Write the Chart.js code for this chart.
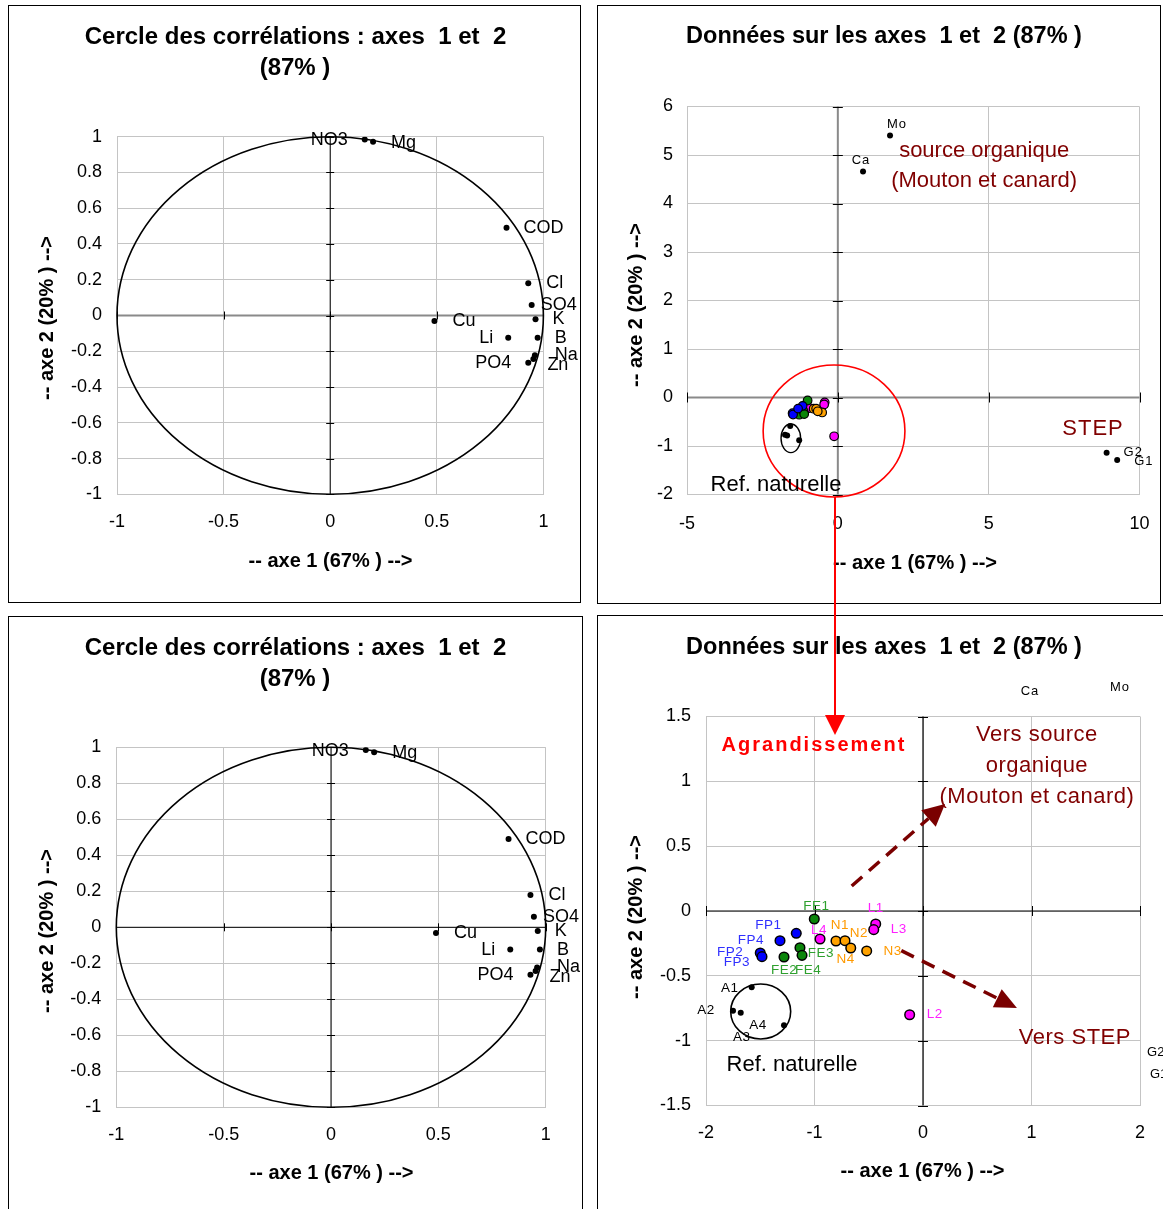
<!DOCTYPE html>
<html><head><meta charset="utf-8">
<script src="https://cdn.jsdelivr.net/npm/chart.js@4.4.1/dist/chart.umd.min.js"></script>
<style>
html,body{margin:0;padding:0;background:#fff;overflow:hidden;width:1163px;height:1209px;}
.panel{position:absolute;border:1px solid #000;box-sizing:border-box;background:#fff;}
canvas{position:absolute;}
#overlay{pointer-events:none;}
</style></head><body>
<div class="panel" style="left:8px;top:5px;width:573px;height:598px"></div>
<div class="panel" style="left:8px;top:616px;width:575px;height:610px"></div>
<div class="panel" style="left:597px;top:5px;width:564px;height:599px"></div>
<div class="panel" style="left:597px;top:615px;width:600px;height:610px"></div>
<canvas id="cTL" width="573" height="598" style="left:8px;top:5px"></canvas>
<canvas id="cBL" width="575" height="593" style="left:8px;top:616px"></canvas>
<canvas id="cTR" width="564" height="599" style="left:597px;top:5px"></canvas>
<canvas id="cBR" width="566" height="594" style="left:597px;top:615px"></canvas>
<canvas id="overlay" width="1163" height="1209" style="left:0;top:0"></canvas>
<script>
// ================= DATA =================
// Correlation circle (variables)
const CORR_VARS = ['NO3','Mg','COD','Cl','SO4','K','Cu','Li','B','Na','Zn','PO4'];
const CORR_AXE1 = [0.162,0.201,0.827,0.929,0.945,0.963,0.489,0.835,0.973,0.960,0.953,0.929];
const CORR_AXE2 = [0.985,0.972,0.491,0.180,0.059,-0.021,-0.031,-0.124,-0.124,-0.223,-0.243,-0.264];
const CORR_X_TICKS = [-1,-0.5,0,0.5,1];
const CORR_Y_TICKS = [-1,-0.8,-0.6,-0.4,-0.2,0,0.2,0.4,0.6,0.8,1];

// Samples (individuals) on axes 1 and 2
const FP_NAMES = ['FP1','FP2','FP3','FP4'];
const FP_AXE1  = [-1.168,-1.500,-1.484,-1.318];
const FP_AXE2  = [-0.172,-0.324,-0.352,-0.229];
const FE_NAMES = ['FE1','FE2','FE3','FE4'];
const FE_AXE1  = [-1.002,-1.281,-1.134,-1.115];
const FE_AXE2  = [-0.062,-0.355,-0.283,-0.342];
const N_NAMES  = ['N1','N2','N3','N4'];
const N_AXE1   = [-0.802,-0.719,-0.519,-0.666];
const N_AXE2   = [-0.231,-0.229,-0.308,-0.285];
const L_NAMES  = ['L1','L2','L3','L4'];
const L_AXE1   = [-0.436,-0.123,-0.454,-0.949];
const L_AXE2   = [-0.100,-0.800,-0.144,-0.216];
const A_NAMES  = ['A1','A2','A3','A4'];
const A_AXE1   = [-1.579,-1.751,-1.680,-1.281];
const A_AXE2   = [-0.588,-0.769,-0.784,-0.881];
const SRC_NAMES = ['Mo','Ca','G2','G1'];
const SRC_AXE1  = [1.73,0.835,8.91,9.26];
const SRC_AXE2  = [5.40,4.66,-1.14,-1.29];

const IND_X_TICKS = [-5,0,5,10];
const IND_Y_TICKS = [-2,-1,0,1,2,3,4,5,6];
const ZOOM_X_TICKS = [-2,-1,0,1,2];
const ZOOM_Y_TICKS = [-1.5,-1,-0.5,0,0.5,1,1.5];

// ================= STYLE =================
const FONT = '"Liberation Sans", Arial, Helvetica, sans-serif';
const TITLE_CORR_1 = 'Cercle des corrélations : axes  1 et  2';
const TITLE_CORR_2 = '(87% )';
const TITLE_IND = 'Données sur les axes  1 et  2 (87% )';
const XTITLE = '-- axe 1 (67% ) -->';
const YTITLE = '-- axe 2 (20% ) -->';

// label placement [dx, dy, align] relative to marker
const CORR_LABEL_POS = {NO3:[-17,1,'right'],Mg:[18,1,'left'],COD:[17,0,'left'],Cl:[18,0,'left'],SO4:[9,0,'left'],
  K:[17,0,'left'],Cu:[18,0,'left'],Li:[-15,0,'right'],B:[17,0,'left'],Na:[20,0,'left'],Zn:[14,6,'left'],PO4:[-17,0,'right']};
const ZOOM_LABEL_POS = {FP1:[-28,-8,'center'],FP2:[-30,-1,'center'],FP3:[-25,6,'center'],FP4:[-29,0,'center'],
  FE1:[2,-13,'center'],FE2:[0,13,'center'],FE3:[21,6,'center'],FE4:[6,15,'center'],
  L4:[-1,-9,'center'],N1:[4,-16,'center'],N2:[14,-7,'center'],N4:[-5,11,'center'],N3:[26,0,'center'],
  L1:[0,-16,'center'],L3:[25,0,'center'],L2:[25,0,'center'],
  A1:[-22,1,'center'],A2:[-27,0,'center'],A3:[1,25,'center'],A4:[-26,0,'center']};
const SRC_LABEL_POS = {Mo:[7,-11,'center'],Ca:[-2,-11,'center'],G2:[17,0,'left'],G1:[17,1,'left']};

const C_BLUE='#0000ff', C_GREEN='#0a850a', C_ORANGE='#ffa200', C_MAG='#ff00ff', C_DRED='#800000';

function pts(xs, ys){ return xs.map((x,i)=>({x:x, y:ys[i]})); }

function drawText(ctx, t){
  ctx.save();
  ctx.font = t.font; ctx.fillStyle = t.color || '#000';
  ctx.textAlign = t.align || 'center'; ctx.textBaseline = 'middle';
  if ('letterSpacing' in ctx) ctx.letterSpacing = t.spacing || '0px';
  if (t.rotate){ ctx.translate(t.x, t.y); ctx.rotate(t.rotate); ctx.fillText(t.text, 0, 0); }
  else ctx.fillText(t.text, t.x, t.y);
  ctx.restore();
}

function decorPlugin(cfg){
  return {
    id: 'decor',
    beforeDatasetsDraw(chart){
      const ctx = chart.ctx, xs = chart.scales.x, ys = chart.scales.y, a = chart.chartArea;
      const x0 = xs.getPixelForValue(0), y0 = ys.getPixelForValue(0);
      ctx.save();
      ctx.strokeStyle = cfg.hAxis.color; ctx.lineWidth = cfg.hAxis.width;
      ctx.beginPath(); ctx.moveTo(a.left, y0); ctx.lineTo(a.right, y0); ctx.stroke();
      ctx.strokeStyle = cfg.vAxis.color; ctx.lineWidth = cfg.vAxis.width;
      ctx.beginPath(); ctx.moveTo(x0, a.top); ctx.lineTo(x0, a.bottom); ctx.stroke();
      ctx.strokeStyle = '#000'; ctx.lineWidth = 1;
      xs.ticks.forEach(t => { const p = Math.round(xs.getPixelForValue(t.value))+0.5;
        ctx.beginPath(); ctx.moveTo(p, y0 - cfg.tick); ctx.lineTo(p, y0 + cfg.tick); ctx.stroke(); });
      ys.ticks.forEach(t => { const p = Math.round(ys.getPixelForValue(t.value))+0.5;
        ctx.beginPath(); ctx.moveTo(x0 - cfg.tick, p); ctx.lineTo(x0 + cfg.tick, p); ctx.stroke(); });
      (cfg.ellipses || []).forEach(e => {
        const cx = xs.getPixelForValue(e.x), cy = ys.getPixelForValue(e.y);
        const rx = Math.abs(xs.getPixelForValue(e.x + e.rx) - cx), ry = Math.abs(ys.getPixelForValue(e.y + e.ry) - cy);
        ctx.strokeStyle = e.color; ctx.lineWidth = e.width;
        ctx.beginPath(); ctx.ellipse(cx, cy, rx, ry, 0, 0, Math.PI*2); ctx.stroke();
      });
      ctx.restore();
    },
    afterDatasetsDraw(chart){
      const ctx = chart.ctx, xs = chart.scales.x, ys = chart.scales.y;
      chart.data.datasets.forEach((ds, i) => {
        if (!ds.names) return;
        const meta = chart.getDatasetMeta(i);
        meta.data.forEach((el, j) => {
          const nm = ds.names[j], off = ds.labelPos[nm];
          if (!off) return;
          drawText(ctx, {text: nm, x: el.x + off[0], y: el.y + off[1], align: off[2], font: ds.labelFont, color: ds.labelColor, spacing: ds.labelSpacing});
        });
      });
      (cfg.arrows || []).forEach(ar => {
        const x1 = xs.getPixelForValue(ar.from[0]), y1 = ys.getPixelForValue(ar.from[1]);
        const x2 = xs.getPixelForValue(ar.to[0]), y2 = ys.getPixelForValue(ar.to[1]);
        const L = Math.hypot(x2-x1, y2-y1), ux = (x2-x1)/L, uy = (y2-y1)/L;
        const bx = x2 - ux*ar.headLen, by = y2 - uy*ar.headLen;
        ctx.save();
        ctx.strokeStyle = ar.color; ctx.fillStyle = ar.color; ctx.lineWidth = ar.width;
        ctx.setLineDash(ar.dash);
        ctx.beginPath(); ctx.moveTo(x1, y1); ctx.lineTo(bx, by); ctx.stroke();
        ctx.setLineDash([]);
        ctx.beginPath(); ctx.moveTo(x2, y2);
        ctx.lineTo(bx - uy*ar.headW/2, by + ux*ar.headW/2);
        ctx.lineTo(bx + uy*ar.headW/2, by - ux*ar.headW/2);
        ctx.closePath(); ctx.fill();
        ctx.restore();
      });
      (cfg.notes || []).forEach(n => {
        drawText(ctx, Object.assign({}, n, {x: xs.getPixelForValue(n.x), y: ys.getPixelForValue(n.y)}));
      });
      (cfg.titles || []).forEach(t => drawText(ctx, t));
    }
  };
}

function buildChart(id, o){
  const el = document.getElementById(id);
  const W = el.width, H = el.height;
  return new Chart(el, {
    type: 'scatter',
    data: {datasets: o.datasets},
    options: {
      responsive: false, animation: false, devicePixelRatio: 1, events: [],
      layout: {padding: {left: 0, top: o.area.top, right: W - o.area.right, bottom: 0}},
      plugins: {legend: {display: false}, tooltip: {enabled: false}, title: {display: false}},
      scales: {
        x: {type: 'linear', min: o.xTicks[0], max: o.xTicks[o.xTicks.length-1],
          afterBuildTicks: s => { s.ticks = o.xTicks.map(v => ({value: v})); },
          ticks: {font: {family: FONT, size: 18}, color: '#000', padding: o.xPad, maxRotation: 0, autoSkip: false, callback: v => String(v)},
          grid: {color: '#c4c4c4', lineWidth: 1, drawTicks: false}, border: {color: '#c4c4c4'},
          afterFit: s => { s.height = H - o.area.bottom; s.paddingLeft = 0; s.paddingRight = 0; }},
        y: {type: 'linear', min: o.yTicks[0], max: o.yTicks[o.yTicks.length-1],
          afterBuildTicks: s => { s.ticks = o.yTicks.map(v => ({value: v})); },
          ticks: {font: {family: FONT, size: 18}, color: '#000', padding: o.yPad, autoSkip: false, callback: v => String(v)},
          grid: {color: '#c4c4c4', lineWidth: 1, drawTicks: false}, border: {color: '#c4c4c4'},
          afterFit: s => { s.width = o.area.left; s.paddingTop = 0; s.paddingBottom = 0; }}
      }
    },
    plugins: [decorPlugin(o.decor)]
  });
}

function titleSet(ox, oy, t){
  const out = [];
  out.push({text: t.l1, x: t.l1x - ox, y: t.l1y - oy, font: 'bold ' + t.size + 'px ' + FONT});
  if (t.l2) out.push({text: t.l2, x: t.l2x - ox, y: t.l2y - oy, font: 'bold ' + t.size + 'px ' + FONT});
  out.push({text: XTITLE, x: t.xtx - ox, y: t.xty - oy, font: 'bold 20px ' + FONT});
  out.push({text: YTITLE, x: t.ytx - ox, y: t.yty - oy, font: 'bold 20px ' + FONT, rotate: -Math.PI/2});
  return out;
}

function corrDataset(){
  return [{data: pts(CORR_AXE1, CORR_AXE2), names: CORR_VARS, labelPos: CORR_LABEL_POS,
    labelFont: '18px ' + FONT, labelColor: '#000',
    pointRadius: 3, pointBorderWidth: 0, backgroundColor: '#000', borderColor: '#000'}];
}

// ---- Top-left: correlation circle ----
buildChart('cTL', {
  area: {left: 109, right: 535.4, top: 131.7, bottom: 489.3},
  xTicks: CORR_X_TICKS, yTicks: CORR_Y_TICKS, xPad: 17, yPad: 15,
  datasets: corrDataset(),
  decor: {
    hAxis: {color: '#8a8a8a', width: 2}, vAxis: {color: '#000', width: 1}, tick: 4,
    ellipses: [{x: 0, y: 0, rx: 1, ry: 1, color: '#000', width: 1.6}],
    titles: titleSet(8, 5, {size: 24, l1: TITLE_CORR_1, l1x: 295.5, l1y: 37, l2: TITLE_CORR_2, l2x: 295, l2y: 68,
      xtx: 330.5, xty: 561, ytx: 47, yty: 318})
  }
});

// ---- Bottom-left: correlation circle (copy) ----
buildChart('cBL', {
  area: {left: 108.3, right: 537.7, top: 131.3, bottom: 491.3},
  xTicks: CORR_X_TICKS, yTicks: CORR_Y_TICKS, xPad: 17, yPad: 15,
  datasets: corrDataset(),
  decor: {
    hAxis: {color: '#000', width: 1}, vAxis: {color: '#000', width: 1}, tick: 4,
    ellipses: [{x: 0, y: 0, rx: 1, ry: 1, color: '#000', width: 1.6}],
    titles: titleSet(8, 616, {size: 24, l1: TITLE_CORR_1, l1x: 295.5, l1y: 648, l2: TITLE_CORR_2, l2x: 295, l2y: 679,
      xtx: 331.5, xty: 1173, ytx: 47, yty: 931})
  }
});

function sampleSets(r, bw, aR, withLabels){
  const lab = (names, color) => withLabels ? {names: names, labelPos: ZOOM_LABEL_POS, labelFont: '13.5px ' + FONT, labelColor: color, labelSpacing: '0.5px'} : {};
  return [
    Object.assign({data: pts(A_AXE1, A_AXE2), pointRadius: aR, pointBorderWidth: 0, backgroundColor: '#000', borderColor: '#000'}, lab(A_NAMES, '#000')),
    Object.assign({data: pts(FP_AXE1, FP_AXE2), pointRadius: r, pointBorderWidth: bw, backgroundColor: C_BLUE, borderColor: '#000'}, lab(FP_NAMES, '#3030ff')),
    Object.assign({data: pts(FE_AXE1, FE_AXE2), pointRadius: r, pointBorderWidth: bw, backgroundColor: C_GREEN, borderColor: '#000'}, lab(FE_NAMES, '#2ea02e')),
    Object.assign({data: pts(N_AXE1, N_AXE2), pointRadius: r, pointBorderWidth: bw, backgroundColor: C_ORANGE, borderColor: '#000'}, lab(N_NAMES, '#ff9a00')),
    Object.assign({data: pts(L_AXE1, L_AXE2), pointRadius: r, pointBorderWidth: bw, backgroundColor: C_MAG, borderColor: '#000'}, lab(L_NAMES, '#ff20ff'))
  ];
}

// ---- Top-right: individuals ----
const trSets = sampleSets(4.3, 1.2, 3, false);
trSets.push({data: pts(SRC_AXE1, SRC_AXE2), names: SRC_NAMES, labelPos: SRC_LABEL_POS, labelFont: '13px ' + FONT,
  labelColor: '#000', labelSpacing: '1px', pointRadius: 3, pointBorderWidth: 0, backgroundColor: '#000', borderColor: '#000'});
buildChart('cTR', {
  area: {left: 90, right: 542.5, top: 101.5, bottom: 489.5},
  xTicks: IND_X_TICKS, yTicks: IND_Y_TICKS, xPad: 19, yPad: 14,
  datasets: trSets,
  decor: {
    hAxis: {color: '#8a8a8a', width: 2}, vAxis: {color: '#8a8a8a', width: 2}, tick: 5,
    ellipses: [
      {x: -1.558, y: -0.841, rx: 0.325, ry: 0.295, color: '#000', width: 1.4},
      {x: -0.126, y: -0.69, rx: 2.35, ry: 1.36, color: '#ff0000', width: 1.6}
    ],
    notes: [
      {text: 'source organique', x: 4.85, y: 5.08, font: '22px ' + FONT, color: C_DRED},
      {text: '(Mouton et canard)', x: 4.85, y: 4.46, font: '22px ' + FONT, color: C_DRED},
      {text: 'STEP', x: 8.46, y: -0.65, font: '22px ' + FONT, color: C_DRED, spacing: '1px'},
      {text: 'Ref. naturelle', x: -2.05, y: -1.80, font: '22px ' + FONT, color: '#000'}
    ],
    titles: titleSet(597, 5, {size: 23.5, l1: TITLE_IND, l1x: 884, l1y: 37, xtx: 915, xty: 563, ytx: 636, yty: 305})
  }
});

// ---- Bottom-right: zoom on the cluster ----
buildChart('cBR', {
  area: {left: 109, right: 543, top: 101.5, bottom: 490.5},
  xTicks: ZOOM_X_TICKS, yTicks: ZOOM_Y_TICKS, xPad: 17, yPad: 15,
  datasets: sampleSets(4.8, 1.5, 3, true),
  decor: {
    hAxis: {color: '#000', width: 1.2}, vAxis: {color: '#000', width: 1.2}, tick: 5,
    ellipses: [{x: -1.496, y: -0.775, rx: 0.2765, ry: 0.212, color: '#000', width: 1.6}],
    arrows: [
      {from: [-0.657, 0.193], to: [0.203, 0.825], color: '#7a0000', width: 3.5, dash: [14, 9], headLen: 22, headW: 22},
      {from: [-0.2, -0.306], to: [0.866, -0.748], color: '#7a0000', width: 3.5, dash: [14, 9], headLen: 22, headW: 20}
    ],
    notes: [
      {text: 'Agrandissement', x: -1.005, y: 1.28, font: 'bold 20px ' + FONT, color: '#ff0000', spacing: '2px'},
      {text: 'Vers source', x: 1.05, y: 1.357, font: '22px ' + FONT, color: C_DRED, spacing: '0.5px'},
      {text: 'organique', x: 1.05, y: 1.118, font: '22px ' + FONT, color: C_DRED, spacing: '0.5px'},
      {text: '(Mouton et canard)', x: 1.05, y: 0.879, font: '22px ' + FONT, color: C_DRED, spacing: '0.5px'},
      {text: 'Vers STEP', x: 1.40, y: -0.979, font: '22px ' + FONT, color: C_DRED, spacing: '0.5px'},
      {text: 'Ref. naturelle', x: -1.207, y: -1.187, font: '22px ' + FONT, color: '#000'},
      {text: 'Ca', x: 0.986, y: 1.696, font: '13px ' + FONT, color: '#000', spacing: '1px'},
      {text: 'Mo', x: 1.816, y: 1.727, font: '13px ' + FONT, color: '#000', spacing: '1px'},
      {text: 'G2', x: 2.065, y: -1.087, font: '13px ' + FONT, color: '#000', align: 'left'},
      {text: 'G1', x: 2.092, y: -1.257, font: '13px ' + FONT, color: '#000', align: 'left'}
    ],
    titles: titleSet(597, 615, {size: 23.5, l1: TITLE_IND, l1x: 884, l1y: 648, xtx: 922.5, xty: 1171, ytx: 636, yty: 917})
  }
});

// ---- Overlay: red "zoom" arrow linking the two right panels ----
(function(){
  const ctx = document.getElementById('overlay').getContext('2d');
  ctx.strokeStyle = '#ff0000'; ctx.fillStyle = '#ff0000'; ctx.lineWidth = 2;
  ctx.beginPath(); ctx.moveTo(835, 497); ctx.lineTo(835, 717); ctx.stroke();
  ctx.beginPath(); ctx.moveTo(825, 715); ctx.lineTo(845, 715); ctx.lineTo(835, 735); ctx.closePath(); ctx.fill();
})();
</script>
</body></html>
